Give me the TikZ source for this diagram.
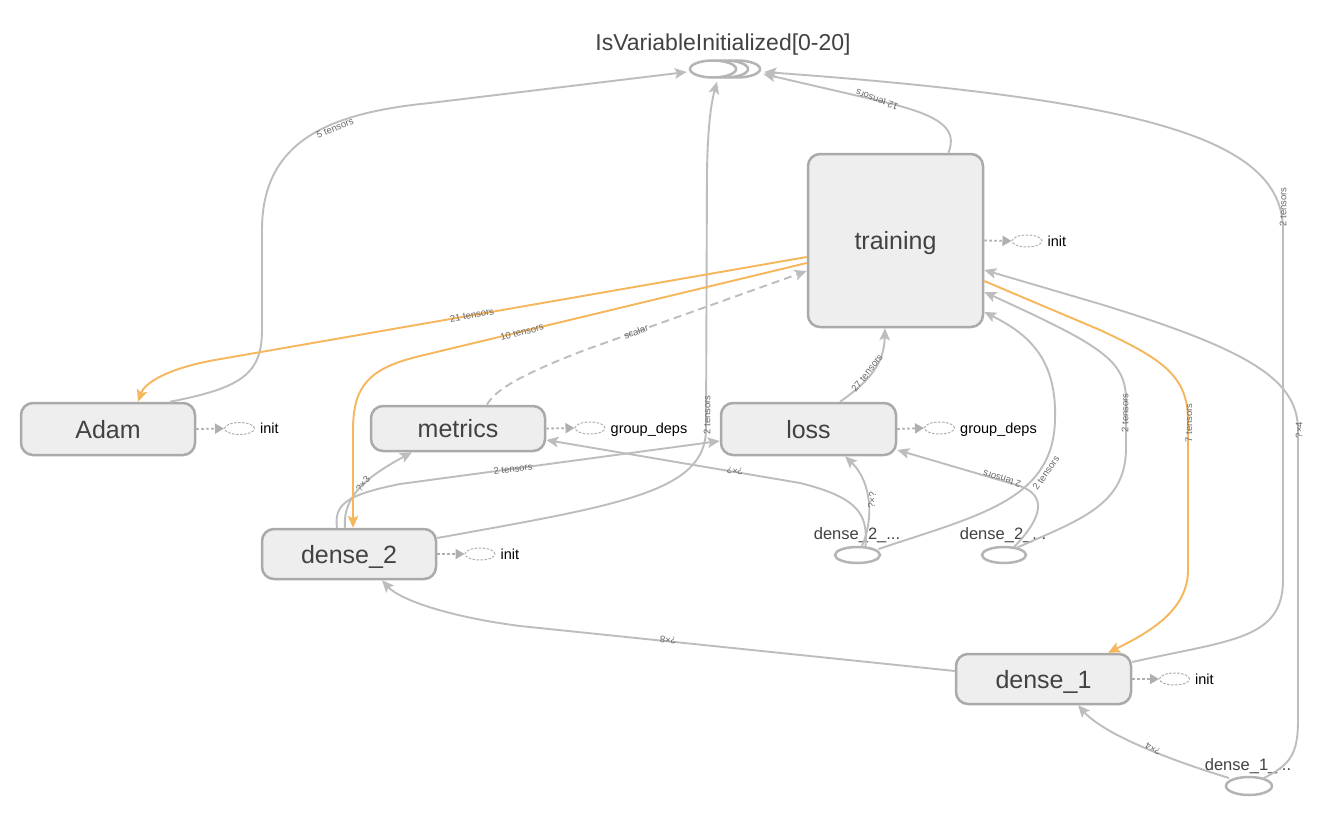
\documentclass[tikz,border=0pt]{standalone}
\usepackage{fontspec}
\setmainfont{Liberation Sans}
\usetikzlibrary{arrows.meta,shapes.geometric}
\definecolor{edgegray}{RGB}{189,189,189}
\definecolor{edgeorange}{RGB}{245,182,92}
\definecolor{boxfill}{RGB}{238,238,238}
\definecolor{boxline}{RGB}{170,170,170}
\definecolor{opline}{RGB}{180,180,180}
\definecolor{txt}{RGB}{66,66,66}
\definecolor{lbl}{RGB}{105,105,105}
\definecolor{auxgray}{RGB}{175,175,175}
\begin{document}
\begin{tikzpicture}[x=1pt,y=-1pt,
 box/.style={draw=boxline,line width=2.5pt,fill=boxfill,rounded corners=12pt,text=txt,font=\fontsize{25}{30}\selectfont,inner sep=0pt,text height=20pt,text depth=2pt},
 opell/.style={ellipse,draw=opline,line width=2.5pt,fill=white,inner sep=0pt},
 optxt/.style={text=txt,font=\fontsize{16.5}{19}\selectfont,inner sep=0pt,text height=12pt,text depth=0pt},
 auxell/.style={ellipse,draw=auxgray,line width=1pt,dash pattern=on 2.5pt off 1.5pt,minimum width=30pt,minimum height=12pt,inner sep=0pt},
 auxtxt/.style={font=\fontsize{14.5}{16}\selectfont,anchor=west,inner sep=0pt,text height=11pt,text depth=1pt},
 auxedge/.style={draw=auxgray,line width=1.8pt,dash pattern=on 2.5pt off 2.5pt,-{Triangle[length=9pt,width=10pt]}},
 ge/.style={draw=edgegray,line width=1.9pt,-{Stealth[length=12pt,width=10.5pt,inset=2.5pt]}},
 oe/.style={ge,draw=edgeorange},
 elab/.style={font=\fontsize{9.5}{11}\selectfont,text=lbl,inner sep=0pt}
]
\useasboundingbox (0,0) rectangle (1326,816);
\fill[white] (0,0) rectangle (1326,816);

% IsVariableInitialized stack
\node[optxt,font=\fontsize{23}{27}\selectfont,text height=16.5pt] (isvlabel) at (723,42) {IsVariableInitialized[0-20]};
\node[opell,minimum width=46pt,minimum height=17pt] (isvc) at (737,69) {};
\node[opell,minimum width=46pt,minimum height=17pt] (isvb) at (725,69) {};
\node[opell,minimum width=46pt,minimum height=17pt] (isv) at (713,69) {};

% main boxes
\node[box,minimum width=175pt,minimum height=173pt] (training) at (895.5,240.5) {training};
\node[box,minimum width=174pt,minimum height=52pt] (adam) at (108,429) {Adam};
\node[box,minimum width=174pt,minimum height=45pt] (metrics) at (458,428.5) {metrics};
\node[box,minimum width=175pt,minimum height=52pt] (loss) at (808.5,429) {loss};
\node[box,minimum width=174pt,minimum height=50pt] (dense2) at (349,554) {dense\_2};
\node[box,minimum width=175pt,minimum height=50pt] (dense1) at (1043.5,679) {dense\_1};

% op ellipses
\node[opell,minimum width=45pt,minimum height=16pt] (op1) at (857.5,555) {};
\node[optxt] (op1txt) at (857,533) {dense\_2\_...};
\node[opell,minimum width=44pt,minimum height=16pt] (op2) at (1004,555) {};
\node[optxt] (op2txt) at (1003,533) {dense\_2\_...};
\node[opell,minimum width=46pt,minimum height=18pt] (d1op) at (1249,786) {};
\node[optxt] (d1optxt) at (1248,764) {dense\_1\_...};

% auxiliary annotations
\node[auxell] (traininit) at (1027,241) {};
\draw[auxedge] (training.east) -- (traininit.west);
\node[auxtxt] (traininittxt) at ([xshift=5pt]traininit.east) {init};
\node[auxell] (adaminit) at (239.5,428.5) {};
\draw[auxedge] (adam.east) -- (adaminit.west);
\node[auxtxt] (adaminittxt) at ([xshift=5pt]adaminit.east) {init};
\node[auxell] (metricsdeps) at (590,428) {};
\draw[auxedge] (metrics.east) -- (metricsdeps.west);
\node[auxtxt] (metricsdepstxt) at ([xshift=5pt]metricsdeps.east) {group\_deps};
\node[auxell] (lossdeps) at (939.5,428) {};
\draw[auxedge] (loss.east) -- (lossdeps.west);
\node[auxtxt] (lossdepstxt) at ([xshift=5pt]lossdeps.east) {group\_deps};
\node[auxell] (d2init) at (480,554) {};
\draw[auxedge] (dense2.east) -- (d2init.west);
\node[auxtxt] (d2inittxt) at ([xshift=5pt]d2init.east) {init};
\node[auxell] (d1init) at (1174.5,679) {};
\draw[auxedge] (dense1.east) -- (d1init.west);
\node[auxtxt] (d1inittxt) at ([xshift=5pt]d1init.east) {init};

% edges
% Adam -> IsVariableInitialized
\draw[ge] ([xshift=62pt]adam.north) .. controls (240,388) and (262,375) .. (262,330) -- (262,230) .. controls (262,140) and (330,113) .. (430,103) -- ([xshift=-2pt,yshift=-3pt]isv.west);
\node[elab,rotate=22] (l1) at (335,128) {5 tensors};
% training -> IsVariableInitialized
\draw[ge] ([xshift=53pt]training.north) .. controls (958,128) and (940,115) .. (880,101) -- ([xshift=2pt,yshift=-5pt]isvc.east);
\node[elab,rotate=160] (l2) at (877,100) {12 tensors};
% dense_2 -> IsVariableInitialized
\draw[ge] ([yshift=16pt]dense2.east) .. controls (620,505) and (705,492) .. (706,430) -- (707,170) .. controls (708,120) and (712,100) .. ([xshift=4pt,yshift=-3pt]isv.south);
\node[elab,rotate=90] (l3) at (707,415) {2 tensors};
% dense_1 -> IsVariableInitialized
\draw[ge] ([yshift=17pt]dense1.east) .. controls (1230,640) and (1283,640) .. (1283,580) -- (1283,230) .. controls (1283,140) and (1150,100) .. ([xshift=3pt,yshift=-3pt]isvc.east);
\node[elab,rotate=90] (l4) at (1283,207) {2 tensors};
% dense_1_... -> training
\draw[ge] ([xshift=13pt,yshift=7pt]d1op.center) .. controls (1290,765) and (1298,755) .. (1298,720) -- (1298,430) .. controls (1298,380) and (1250,350) .. (1100,304) -- ([yshift=-29.5pt]training.east);
\node[elab,rotate=90] (l5) at (1299,430) {?×4};
% dense_1_... -> dense_1
\draw[ge] ([xshift=-20pt,yshift=8pt]d1op.center) .. controls (1170,760) and (1105,735) .. ([xshift=34.5pt]dense1.south);
\node[elab,rotate=153] (l6) at (1153,749) {?×4};
% training -> dense_1
\draw[oe] ([yshift=-40.5pt]training.east) -- (1100,330) .. controls (1160,358) and (1188,375) .. (1188,420) -- (1188,570) .. controls (1188,610) and (1150,632) .. ([xshift=64.5pt]dense1.north);
\node[elab,rotate=90] (l7) at (1189,423) {7 tensors};
% dense_2_... (1) -> training
\draw[ge] ([xshift=21pt,yshift=6pt]op1.center) .. controls (980,515) and (1053,500) .. (1055,420) .. controls (1057,360) and (1030,335) .. ([yshift=-71.5pt]training.east);
\node[elab,rotate=55] (l8) at (1046,473) {2 tensors};
% dense_2_... (2) -> training
\draw[ge] ([xshift=12pt,yshift=7pt]op2.center) .. controls (1080,520) and (1125,505) .. (1126,450) -- (1126,400) .. controls (1126,360) and (1100,345) .. ([yshift=-51.5pt]training.east);
\node[elab,rotate=90] (l9) at (1125,413) {2 tensors};
% dense_2_... (2) -> loss
\draw[ge] ([xshift=10pt,yshift=8pt]op2.center) .. controls (1045,515) and (1045,495) .. (1020,486) -- ([yshift=-21pt]loss.east);
\node[elab,rotate=163] (l10) at (1002,479) {2 tensors};
% dense_2_... (1) -> loss
\draw[ge] ([xshift=4pt,yshift=8pt]op1.center) .. controls (874,520) and (872,482) .. ([xshift=36.5pt]loss.south);
\node[elab,rotate=85] (l11) at (872,500) {?×?};
% dense_2_... (1) -> metrics
\draw[ge] ([xshift=8pt,yshift=8pt]op1.center) .. controls (868,515) and (860,498) .. (800,483) -- ([yshift=-11.5pt]metrics.east);
\node[elab,rotate=171] (l12) at (735,471) {?×?};
% dense_2 -> metrics
\draw[ge] ([xshift=-4pt]dense2.north) .. controls (342,495) and (370,475) .. ([xshift=-46pt]metrics.south);
\node[elab,rotate=50] (l13) at (363,484) {?×3};
% dense_2 -> loss
\draw[ge] ([xshift=-12pt]dense2.north) .. controls (334,505) and (345,495) .. (400,484) -- ([yshift=-12pt]loss.west);
\node[elab,rotate=8] (l14) at (513,469) {2 tensors};
% training -> Adam
\draw[oe] ([yshift=-16.5pt]training.west) -- (215,360) .. controls (170,368) and (145,382) .. ([xshift=30pt]adam.north);
\node[elab,rotate=10] (l15) at (472,315) {21 tensors};
% training -> dense_2
\draw[oe] ([yshift=-22.5pt]training.west) -- (420,356) .. controls (370,368) and (353,385) .. (353,430) -- ([xshift=4pt]dense2.north);
\node[elab,rotate=14] (l16) at (522,332) {10 tensors};
% metrics -> training (scalar)
\draw[ge,dash pattern=on 8pt off 5pt] ([xshift=29pt]metrics.north) .. controls (495,390) and (520,375) .. (585,350) -- ([yshift=-30.5pt]training.west);
\node[elab,rotate=20] (l17) at (636,332) {scalar};
% loss -> training
\draw[ge] ([xshift=31.5pt]loss.north) .. controls (868,382) and (884,365) .. ([xshift=-10.5pt]training.south);
\node[elab,rotate=52] (l18) at (867,373) {27 tensors};
% dense_1 -> dense_2
\draw[ge] ([yshift=8pt]dense1.west) -- (520,626) .. controls (450,617) and (400,600) .. ([xshift=33pt]dense2.south);
\node[elab,rotate=174] (l19) at (668,640) {?×8};
\end{tikzpicture}
\end{document}
